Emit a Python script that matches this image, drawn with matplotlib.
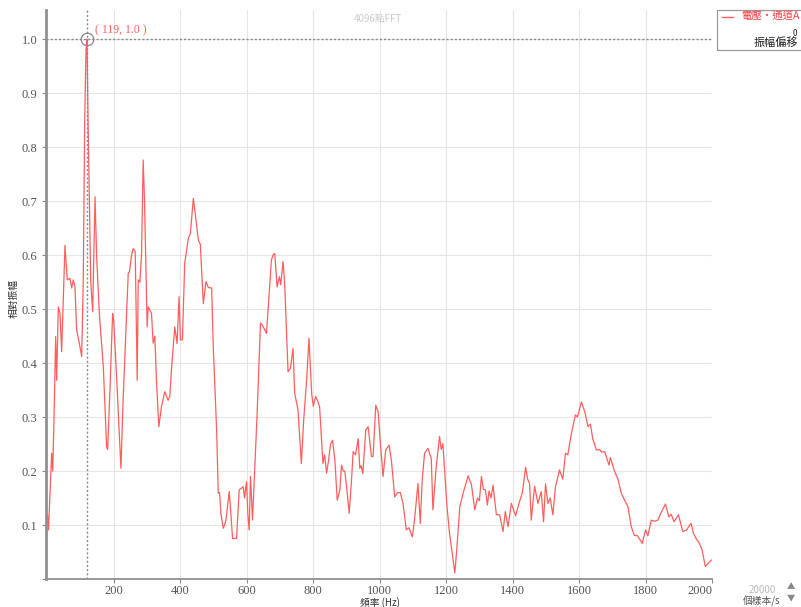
import matplotlib
matplotlib.use("Agg")
import matplotlib.pyplot as plt
from matplotlib.patches import Rectangle
from matplotlib.lines import Line2D

plt.rcParams['font.family'] = ['Noto Sans CJK TC', 'DejaVu Sans']

freq = [0, 3, 7, 12.6, 15.6, 19.5, 22.5, 24.6, 27.5, 32.6, 37.6, 42.6, 45.6, 52.6, 55.6, 59.6,
        67.7, 72.7, 77.6, 82.7, 87.8, 95.7, 102.9, 107.7, 112, 116, 119, 122, 126, 130, 136,
        143, 148, 156, 168, 178, 181, 188, 196, 199, 208, 218, 221, 228, 236, 243, 247, 253,
        258, 264, 270, 273, 278, 283, 288, 292, 296, 300, 303, 313, 318, 323, 328, 335, 343,
        353, 363, 368, 373, 383, 390, 396, 400, 406, 413, 424, 430, 439, 446, 454, 460, 469,
        477, 484, 494, 499, 509, 514, 518, 522, 529, 533, 537, 541, 547, 552, 557, 569, 577,
        589, 593, 599, 603, 607, 611, 617, 624, 631, 641, 647, 659, 667, 674, 679, 684, 691,
        698, 702, 709, 714, 724, 731, 739, 744, 754, 764, 771, 780, 787, 795, 800, 807, 813,
        819, 829, 834, 840, 846, 852, 858, 865, 872, 880, 885, 890, 895, 902, 908, 915, 920,
        927, 935, 940, 944, 949, 958, 965, 975, 980, 988, 995, 1002, 1010, 1018, 1028, 1035,
        1045, 1054, 1062, 1070, 1080, 1088, 1098, 1105, 1115, 1122, 1128, 1135, 1145, 1155,
        1160, 1170, 1180, 1185, 1190, 1202, 1210, 1218, 1226, 1231, 1241, 1251, 1266, 1276,
        1286, 1294, 1300, 1306, 1312, 1318, 1324, 1329, 1335, 1341, 1351, 1361, 1371, 1378,
        1386, 1396, 1409, 1419, 1429, 1439, 1445, 1451, 1456, 1466, 1476, 1486, 1493, 1499,
        1506, 1513, 1521, 1529, 1541, 1551, 1559, 1566, 1577, 1589, 1595, 1607, 1617, 1627,
        1634, 1641, 1652, 1662, 1667, 1677, 1690, 1694, 1707, 1717, 1727, 1737, 1747, 1757,
        1766, 1776, 1790, 1800, 1807, 1817, 1827, 1837, 1846, 1860, 1870, 1877, 1886, 1899,
        1912, 1922, 1937, 1944, 1952, 1962, 1970, 1980, 1990, 1998]
amp = [0.119, 0.091, 0.15, 0.233, 0.20, 0.294, 0.387, 0.449, 0.368, 0.504, 0.492, 0.421, 0.48,
       0.618, 0.59, 0.554, 0.557, 0.539, 0.554, 0.541, 0.461, 0.437, 0.412, 0.554, 0.85, 0.98,
       1.0, 0.85, 0.70, 0.554, 0.495, 0.708, 0.597, 0.492, 0.393, 0.245, 0.24, 0.35, 0.492,
       0.48, 0.375, 0.245, 0.205, 0.338, 0.461, 0.566, 0.57, 0.60, 0.612, 0.607, 0.368, 0.554,
       0.55, 0.60, 0.776, 0.70, 0.585, 0.467, 0.504, 0.492, 0.437, 0.45, 0.368, 0.282, 0.319,
       0.347, 0.331, 0.338, 0.387, 0.467, 0.436, 0.523, 0.443, 0.443, 0.585, 0.631, 0.64,
       0.705, 0.67, 0.628, 0.62, 0.51, 0.551, 0.54, 0.539, 0.43, 0.276, 0.159, 0.16, 0.12,
       0.094, 0.10, 0.109, 0.13, 0.162, 0.12, 0.075, 0.075, 0.165, 0.171, 0.15, 0.18, 0.12,
       0.091, 0.19, 0.109, 0.208, 0.307, 0.474, 0.47, 0.455, 0.526, 0.591, 0.60, 0.603, 0.541,
       0.56, 0.545, 0.588, 0.545, 0.384, 0.39, 0.427, 0.344, 0.313, 0.214, 0.294, 0.369, 0.446,
       0.344, 0.32, 0.338, 0.33, 0.319, 0.214, 0.23, 0.196, 0.22, 0.25, 0.257, 0.22, 0.146,
       0.165, 0.211, 0.20, 0.20, 0.16, 0.122, 0.183, 0.236, 0.23, 0.26, 0.205, 0.21, 0.195,
       0.276, 0.282, 0.227, 0.227, 0.322, 0.31, 0.251, 0.19, 0.239, 0.248, 0.22, 0.152, 0.16,
       0.16, 0.14, 0.091, 0.095, 0.078, 0.112, 0.177, 0.103, 0.186, 0.233, 0.242, 0.224,
       0.128, 0.208, 0.264, 0.24, 0.251, 0.137, 0.085, 0.048, 0.011, 0.048, 0.134, 0.159,
       0.191, 0.175, 0.128, 0.15, 0.145, 0.19, 0.166, 0.165, 0.137, 0.163, 0.15, 0.174, 0.119,
       0.119, 0.088, 0.125, 0.097, 0.14, 0.117, 0.14, 0.159, 0.207, 0.185, 0.177, 0.109,
       0.172, 0.14, 0.162, 0.106, 0.176, 0.14, 0.15, 0.119, 0.171, 0.202, 0.185, 0.233, 0.23,
       0.27, 0.304, 0.30, 0.328, 0.31, 0.282, 0.287, 0.26, 0.239, 0.24, 0.235, 0.236, 0.211,
       0.225, 0.199, 0.185, 0.159, 0.146, 0.134, 0.097, 0.081, 0.08, 0.066, 0.091, 0.08,
       0.109, 0.107, 0.109, 0.122, 0.139, 0.115, 0.12, 0.106, 0.119, 0.088, 0.09, 0.103,
       0.085, 0.075, 0.066, 0.054, 0.023, 0.03, 0.035]

x_ticks = [200, 400, 600, 800, 1000, 1200, 1400, 1600, 1800, 2000]
y_ticks = [0.1, 0.2, 0.3, 0.4, 0.5, 0.6, 0.7, 0.8, 0.9, 1.0]
peak_f, peak_a = 119, 1.0

fig = plt.figure(figsize=(8.01, 6.07), dpi=100)
ax = fig.add_axes([46/801, 1-579/607, (712-46)/801, (579-10)/607])

ax.plot(freq, amp, color='#ff5e5e', lw=0.9)
ax.set_xlim(-4.5, 1998)
ax.set_ylim(0, 1.054)

ax.set_xticks(x_ticks)
ax.set_yticks([0] + y_ticks)
ax.set_xticklabels([str(t) for t in x_ticks], family='Liberation Serif', fontsize=9, color='#555555')
ax.set_yticklabels([''] + [f'{t:.1f}' for t in y_ticks], family='Liberation Serif', fontsize=9, color='#555555')
ax.get_xticklabels()[-1].set_horizontalalignment('right')
ax.tick_params(axis='both', length=3, width=0.8, color='#888888', pad=3)
ax.tick_params(axis='x', pad=1.5)
ax.grid(True, color='#e6e6e6', lw=0.8)
ax.set_axisbelow(True)
for s in ['top', 'right']:
    ax.spines[s].set_visible(False)
ax.spines['left'].set_color('#909090')
ax.spines['left'].set_linewidth(2.0)
ax.spines['bottom'].set_color('#909090')
ax.spines['bottom'].set_linewidth(1.3)

# crosshair
ax.axvline(peak_f, color='#8a8a8a', lw=1.0, ls=(0, (1.5, 1.5)))
ax.axhline(peak_a, color='#8a8a8a', lw=1.0, ls=(0, (1.5, 1.5)))
ax.plot([peak_f], [peak_a], marker='o', ms=9, mfc='none', mec='#888888', mew=0.9,
        ls='none')
ax.annotate(f'( {peak_f}, {peak_a:.1f} )', (peak_f, peak_a), xytext=(6, 2), textcoords='offset points',
            color='#ff5e5e', fontsize=8.5, family='Liberation Serif', va='bottom')

# title, labels
fig.text(378/801, 1-19/607, '4096點FFT', color='#cccccc', fontsize=7, ha='center', va='center')
fig.text(380/801, 1-603/607, '頻率 (Hz)', color='#333333', fontsize=7, ha='center', va='center')
fig.text(14/801, 1-298/607, '相對振幅', color='#333333', fontsize=7, ha='center', va='center', rotation=90)

# legend box
fig.patches.append(Rectangle((717/801, 1-50/607), 100/801, 40/607, transform=fig.transFigure,
                             fill=False, ec='#999999', lw=0.9))
fig.lines.append(Line2D([722/801, 733/801], [1-17/607, 1-17/607], transform=fig.transFigure,
                        color='#ff5e5e', lw=1.0))
fig.text(741/801, 1-17/607, '電壓・通道A', color='#ff4040', fontsize=7.5, ha='left', va='center')
fig.text(754/801, 1-43/607, '振幅偏移', color='#222222', fontsize=8, ha='left', va='center')
fig.text(793/801, 1-33/607, '0', color='#222222', fontsize=6, ha='left', va='center')

# bottom-right sample rate
fig.text(762/801, 1-590/607, '20000', color='#bbbbbb', fontsize=7, ha='center', va='center')
fig.text(762/801, 1-601/607, '個樣本/s', color='#555555', fontsize=7, ha='center', va='center')
fig.text(791/801, 1-587/607, '▲', color='#888888', fontsize=6, ha='center', va='center')
fig.text(791/801, 1-598/607, '▼', color='#888888', fontsize=6, ha='center', va='center')

fig.savefig('out.png', dpi=100)
